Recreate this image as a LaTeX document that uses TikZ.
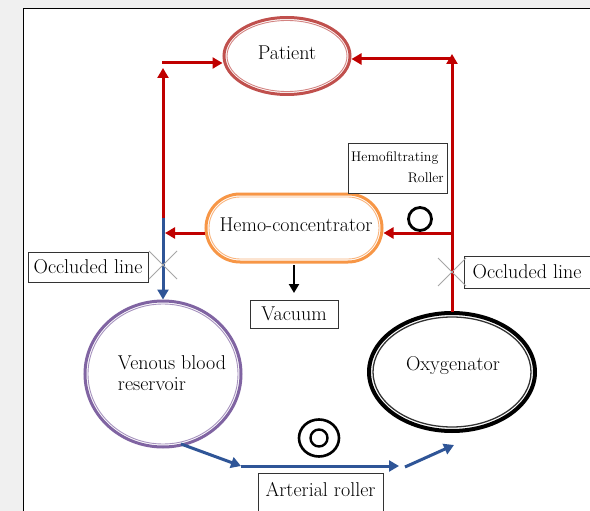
\documentclass[tikz,border=0pt]{standalone}
\usepackage{fontspec}
\usetikzlibrary{arrows.meta,shapes.geometric}
\definecolor{redline}{RGB}{192,0,0}
\definecolor{blueline}{RGB}{47,85,151}
\definecolor{patred}{RGB}{192,80,77}
\definecolor{orng}{RGB}{247,150,70}
\definecolor{purp}{RGB}{128,100,162}
\definecolor{bggray}{RGB}{240,240,240}
\tikzset{
  flow/.style={line width=3pt,-{Triangle[length=10pt,width=11pt]}},
  redflow/.style={flow,draw=redline},
  blueflow/.style={flow,draw=blueline},
  outerline/.style={line width=3pt,inner sep=0pt},
  innerline/.style={line width=0.9pt,inner sep=0pt},
  bigtxt/.style={font=\fontsize{20}{22}\selectfont},
  lbl/.style={draw=black!80,line width=0.8pt,fill=white,inner sep=0pt,bigtxt},
  xmark/.style={draw=gray!70,line width=0.8pt},
}
\begin{document}
\begin{tikzpicture}[x=1pt,y=-1pt]
\useasboundingbox (0,0) rectangle (590,511);
\fill[bggray] (0,0) rectangle (590,511);
\fill[white] (23,9) rectangle (590,511);
\draw[line width=1pt] (23,511) -- (23,9) -- (590,9);

% main components
\node[ellipse,draw=patred,outerline,minimum width=126pt,minimum height=77pt] (patient) at (287,56) {};
\node[ellipse,draw=patred!70,innerline,minimum width=120pt,minimum height=71pt] (patientin) at (287,56) {};
\node[bigtxt] (pattext) at (287,53) {Patient};

\node[rectangle,rounded corners=34pt,draw=orng,outerline,minimum width=176pt,minimum height=68pt] (hemo) at (294,228) {};
\node[rectangle,rounded corners=31pt,draw=orng!70,innerline,minimum width=170pt,minimum height=62pt] (hemoin) at (294,228) {};
\node[bigtxt] (hemotext) at (296,225) {Hemo-concentrator};

\node[ellipse,draw=purp,outerline,minimum width=156pt,minimum height=146pt] (venous) at (163,374) {};
\node[ellipse,draw=purp!70,innerline,minimum width=150pt,minimum height=140pt] (venousin) at (163,374) {};
\node[align=left,font=\fontsize{20}{21}\selectfont,inner sep=0pt] (venoustext) at (172,373) {Venous blood\\reservoir};

\node[ellipse,draw=black,line width=4pt,inner sep=0pt,minimum width=166pt,minimum height=118pt] (oxy) at (452,372) {};
\node[ellipse,draw=black!80,line width=1.3pt,inner sep=0pt,minimum width=158pt,minimum height=110pt] (oxyin) at (452,372) {};
\node[bigtxt] (oxytext) at (453,366) {Oxygenator};

% labels
\node[lbl,minimum width=99pt,minimum height=50pt] (hfbox) at (397.5,168) {};
\node[font=\fontsize{14}{16}\selectfont,anchor=north west,inner sep=0pt] (hftext1) at (351,151) {Hemofiltrating};
\node[font=\fontsize{14}{16}\selectfont,anchor=north east,inner sep=0pt] (hftext2) at (444,173) {Roller};
\node[lbl,minimum width=120pt,minimum height=30pt] (occL) at (88,267) {Occluded line};
\node[lbl,minimum width=126pt,minimum height=32pt] (occR) at (527,272) {Occluded line};
\node[lbl,minimum width=88pt,minimum height=28pt] (vac) at (294,314) {Vacuum};
\node[bigtxt] (art) at (320.5,490) {Arterial roller};
\draw[black!80,line width=0.8pt] (258,511) |- (383,473) -- (383,511);

% rollers
\node[circle,draw=black,line width=2.8pt,minimum size=23pt,inner sep=0pt] (hroller) at (420,219) {};
\node[ellipse,draw=black,line width=2.6pt,minimum width=40pt,minimum height=37pt,inner sep=0pt] (aroller) at (319,438) {};
\node[circle,draw=black,line width=2.4pt,minimum size=17pt,inner sep=0pt] (arollerin) at (319,438) {};

% coordinates
\coordinate (Ltop) at (163,68);
\coordinate (Lturn) at (162,63);
\coordinate (Lmid) at (163,218);
\coordinate (Ljoin) at (165,233);
\coordinate (Rtop) at (452,54);
\coordinate (Rturn) at (453,59);
\coordinate (Rjoin) at (453,233);
\coordinate (Rbot) at (452,312);
\coordinate (vs) at (181,444);
\coordinate (a1) at (241,466);
\coordinate (a2) at (399,466);
\coordinate (a3) at (405,467);
\coordinate (a4) at (454,445);

% red flows
\draw[redflow] (Lmid) -- (Ltop);
\draw[redflow] (Lturn) -- (Lturn -| patient.west);
\draw[redflow] (Rbot) -- (Rtop);
\draw[redflow] (Rturn) -- (Rturn -| patient.east);
\draw[redflow] (Rjoin) -- (Rjoin -| hemo.east);
\draw[redflow] (hemo.west |- Ljoin) -- (Ljoin);
% blue flows
\draw[blueflow] (Lmid) -- (venous.north);
\draw[blueflow] (vs) -- (a1);
\draw[blueflow] (a1) -- (a2);
\draw[blueflow] (a3) -- (a4);
% vacuum
\draw[line width=2.2pt,-{Triangle[length=9pt,width=10pt]}] (294,265) -- (294,293);

% occlusion marks
\draw[xmark] (149,251) -- (177,279) (149,279) -- (177,251);
\draw[xmark] (438,258) -- (466,286) (438,286) -- (466,258);
\end{tikzpicture}
\end{document}
